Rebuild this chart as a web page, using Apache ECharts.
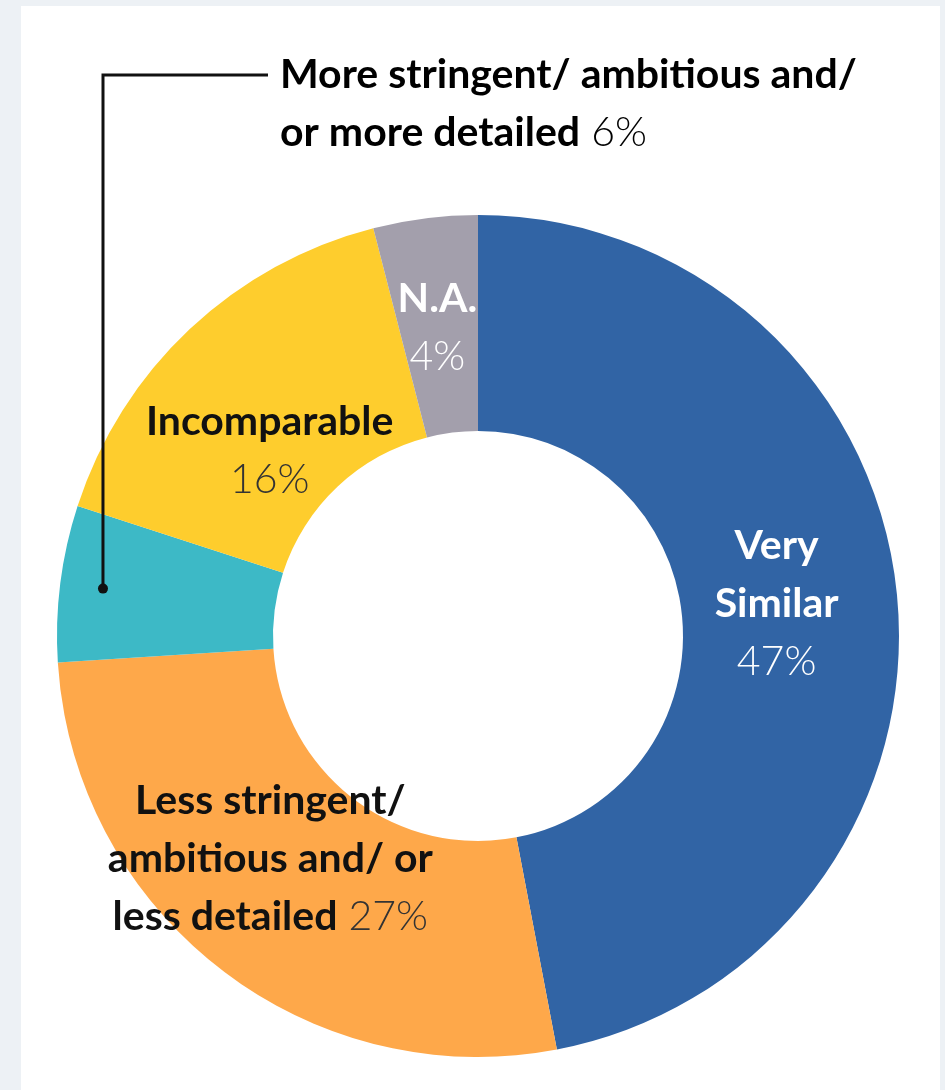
<!DOCTYPE html>
<html>
<head>
<meta charset="utf-8">
<script src="https://cdn.jsdelivr.net/npm/echarts@6/dist/echarts.min.js"></script>
<style>
  html, body { margin: 0; padding: 0; background: #edf1f5; }
  #chart { width: 945px; height: 1090px; }
</style>
</head>
<body>
<div id="chart"></div>
<script>
// categories, in clockwise order from 12 o'clock
var categories = [
  "Very Similar",
  "Less stringent/ ambitious and/ or less detailed",
  "More stringent/ ambitious and/ or more detailed",
  "Incomparable",
  "N.A."
];
var shares = [47, 27, 6, 16, 4];
var colors = ["#3164a5", "#fea84a", "#3db9c6", "#fecd2d", "#a39fac"];

var cx = 478, cy = 636, rIn = 205, rOut = 421;
var font = "Lato";

// label text for each slice (line breaks only)
var labelLines = [
  ["{b|Very}", "{b|Similar}", "{p|47%}"],
  ["{b|Less stringent/}", "{b|ambitious and/ or}", "{b|less detailed}{p| 27%}"],
  [],
  ["{b|Incomparable}", "{p|16%}"],
  ["{b|N.A.}", "{p|4%}"]
];
var whiteText = [true, false, false, false, true];

function rich(dark) {
  var c1 = dark ? "#ffffff" : "#111111";
  var c2 = dark ? "#ffffff" : "#333333";
  return {
    b: { fontFamily: font, fontWeight: "bold", fontSize: 41, color: c1, lineHeight: 58 },
    p: { fontFamily: font, fontWeight: 300, fontSize: 41, color: c2, lineHeight: 58 }
  };
}

var data = categories.map(function (name, i) {
  return {
    name: name,
    value: shares[i],
    itemStyle: { color: colors[i] },
    label: {
      show: labelLines[i].length > 0,
      formatter: labelLines[i].join("\n"),
      rich: rich(whiteText[i])
    }
  };
});

// leader dot in the small slice, at its middle angle
var total = shares.reduce(function (a, b) { return a + b; }, 0);
var before = shares[0] + shares[1];
var midFrac = (before + shares[2] / 2) / total;
var ang = midFrac * 2 * Math.PI;
var dotR = 378;
var dotX = cx + dotR * Math.sin(ang);
var dotY = cy - dotR * Math.cos(ang);

var labelShift = [[-16, -2], [-14, -27], [0, 0], [8, 45], [-1, 5]];

var myChart = echarts.init(document.getElementById("chart"));
var option = {
  animation: false,
  graphic: [
    { type: "rect", z: -10, shape: { x: 21, y: 6, width: 919, height: 1090 }, style: { fill: "#ffffff" } },
    {
      type: "polyline", z: 100,
      shape: { points: [[dotX, dotY], [103, 75], [268, 75]] },
      style: { stroke: "#111111", lineWidth: 3, fill: null }
    },
    { type: "circle", z: 101, shape: { cx: dotX, cy: dotY, r: 5 }, style: { fill: "#111111" } },
    {
      type: "text", z: 100, x: 280, y: 75,
      style: {
        text: "{b|More stringent/ ambitious and/}\n{b|or more detailed}{p| 6%}",
        rich: rich(false),
        verticalAlign: "top",
        y: -29
      }
    }
  ],
  series: [
    {
      type: "pie",
      center: [cx, cy],
      radius: [rIn, rOut],
      startAngle: 90,
      clockwise: true,
      silent: true,
      label: { position: "inside", align: "center" },
      labelLine: { show: false },
      labelLayout: function (params) {
        var s = labelShift[params.dataIndex];
        return { dx: s[0], dy: s[1] };
      },
      data: data
    }
  ]
};
myChart.setOption(option);
</script>
</body>
</html>
